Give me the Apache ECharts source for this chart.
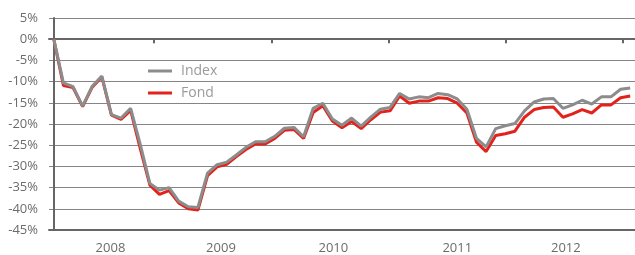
<!DOCTYPE html>
<html>
<head>
<meta charset="utf-8">
<script src="https://cdn.jsdelivr.net/npm/echarts@6/dist/echarts.min.js"></script>
<style>
  html, body { margin: 0; padding: 0; background: #fff; }
  #chart { width: 635px; height: 255px; }
</style>
</head>
<body>
<div id="chart"></div>
<script>
// month-end points, 0% baseline first
const months = [];
for (let y = 2007; y <= 2012; y++) {
  for (let m = 1; m <= 12; m++) {
    if (y === 2007 && m < 12) continue;
    months.push(y + '-' + String(m).padStart(2, '0'));
  }
}

const indexValues = [
  0, -10.3, -11.2, -15.8, -11.1, -8.7, -17.8, -18.6, -16.3, -24.8,
  -34.0, -35.6, -35.0, -38.2, -39.5, -39.7, -31.6, -29.6, -29.0, -27.3,
  -25.5, -24.2, -24.2, -22.9, -21.0, -20.8, -23.0, -16.3, -15.1, -18.8,
  -20.3, -18.6, -20.5, -18.4, -16.5, -16.1, -12.8, -14.1, -13.6, -13.8,
  -12.8, -13.1, -14.1, -16.5, -23.4, -25.4, -21.1, -20.4, -19.9, -16.9,
  -14.8, -14.1, -14.0, -16.3, -15.5, -14.4, -15.3, -13.6, -13.6, -11.8,
  -11.5
];

const fondValues = [
  0, -10.9, -11.4, -15.9, -11.3, -8.9, -17.9, -18.9, -16.8, -25.8,
  -34.4, -36.6, -35.7, -38.6, -40.0, -40.3, -32.2, -30.1, -29.5, -27.7,
  -26.0, -24.7, -24.7, -23.4, -21.5, -21.3, -23.4, -17.3, -15.7, -19.3,
  -20.9, -19.4, -21.1, -19.0, -17.2, -16.9, -13.4, -15.1, -14.6, -14.6,
  -13.8, -14.0, -15.1, -17.4, -24.3, -26.5, -22.7, -22.3, -21.7, -18.4,
  -16.6, -16.1, -16.0, -18.4, -17.6, -16.6, -17.4, -15.5, -15.5, -13.8,
  -13.4
];

// x axis ticks and year labels (in month-index units, as placed in the original)
const tickPos = [10.4, 22.7, 34.9, 47.0, 59.2];
const yearLabels = ['2008', '2009', '2010', '2011', '2012'];
const yearLabelPos = [5.9, 17.4, 29.1, 42.0, 53.3];

const chart = echarts.init(document.getElementById('chart'));

const axisGray = '#666';
const textGray = '#6b6b6b';
const font = "'Open Sans', 'DejaVu Sans', sans-serif";

chart.setOption({
  animation: false,
  textStyle: { fontFamily: font },
  grid: { left: 49, right: 0, top: 18, bottom: 22 },
  legend: {
    data: ['Index', 'Fond'],
    orient: 'vertical',
    left: 148,
    top: 64,
    padding: 0,
    icon: 'path://M0,0H8V1H0Z',
    itemWidth: 24,
    itemHeight: 3,
    itemGap: 8,
    textStyle: { color: '#9a9a9a', fontSize: 14, lineHeight: 14, fontFamily: font, padding: [0, 0, 0, 4] }
  },
  xAxis: [
    {
      type: 'category',
      data: months,
      boundaryGap: true,
      axisLine: { onZero: false, lineStyle: { color: axisGray, width: 2 } },
      axisTick: { show: false },
      axisLabel: { show: false },
      splitLine: { show: false }
    },
    {
      // zero line with year ticks
      type: 'value',
      min: -0.5,
      max: 60.5,
      position: 'bottom',
      axisLine: { show: true, onZero: true, onZeroAxisIndex: 0, lineStyle: { color: axisGray, width: 2 } },
      axisTick: { show: true, length: 4, customValues: tickPos, lineStyle: { color: axisGray, width: 2 } },
      axisLabel: { show: false },
      splitLine: { show: false }
    },
    {
      // year labels under the plot
      type: 'value',
      min: -0.5,
      max: 60.5,
      position: 'bottom',
      axisLine: { show: false, onZero: false },
      axisTick: { show: false },
      axisLabel: {
        customValues: yearLabelPos,
        formatter: v => {
          const i = yearLabelPos.findIndex(p => Math.abs(p - v) < 0.01);
          return i >= 0 ? yearLabels[i] : '';
        },
        margin: 12,
        color: textGray,
        fontSize: 13,
        fontFamily: font
      },
      splitLine: { show: false }
    }
  ],
  yAxis: {
    type: 'value',
    min: -45,
    max: 5,
    interval: 5,
    axisLine: { show: true, lineStyle: { color: axisGray, width: 2 } },
    axisTick: { show: false },
    axisLabel: { formatter: '{value}%', color: textGray, fontSize: 13, fontFamily: font, margin: 11 },
    splitLine: { lineStyle: { color: '#858585', width: 1 } }
  },
  series: [
    {
      name: 'Fond',
      type: 'line',
      data: fondValues,
      symbol: 'none',
      z: 2,
      lineStyle: { color: '#e3231b', width: 3 },
      itemStyle: { color: '#e3231b' }
    },
    {
      name: 'Index',
      type: 'line',
      data: indexValues,
      symbol: 'none',
      z: 3,
      lineStyle: { color: '#8c8c8c', width: 3 },
      itemStyle: { color: '#8c8c8c' }
    }
  ]
});
</script>
</body>
</html>
